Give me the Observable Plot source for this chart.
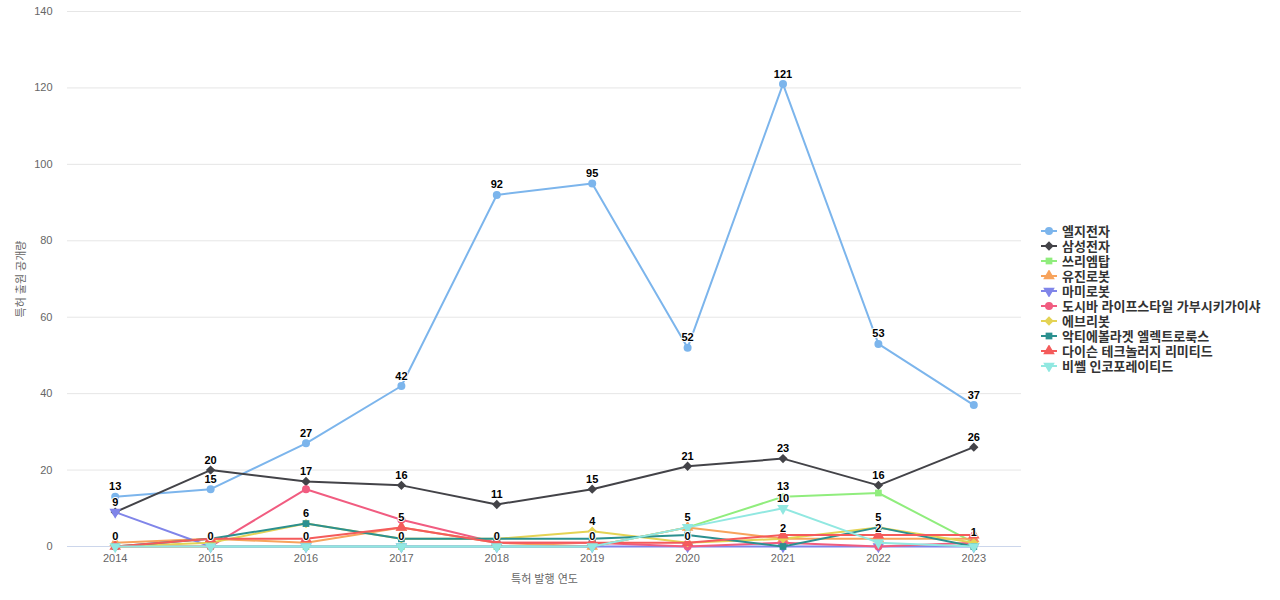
<!DOCTYPE html>
<html>
<head>
<meta charset="utf-8">
<script src="https://cdn.jsdelivr.net/npm/d3@7"></script>
<script src="https://cdn.jsdelivr.net/npm/@observablehq/plot@0.6"></script>
<style>
  html, body { margin: 0; padding: 0; background: #fff; }
  body { font-family: "Liberation Sans", Arial, "Noto Sans CJK KR", sans-serif; }
  #wrap { position: relative; width: 1280px; height: 600px; }
  #legend { position: absolute; left: 1041px; top: 223px; }
  .item { display: flex; align-items: center; height: 15px; font-size: 13px; font-weight: bold; color: #333; white-space: nowrap; }
  .item svg { margin-right: 5px; }
</style>
</head>
<body>
<div id="wrap"><div id="chart"></div><div id="legend"></div></div>
<script>
const years = [2014, 2015, 2016, 2017, 2018, 2019, 2020, 2021, 2022, 2023];
const seriesNames = ["엘지전자", "삼성전자", "쓰리엠탑", "유진로봇", "마미로봇", "도시바 라이프스타일 가부시키가이샤", "에브리봇", "악티에볼라겟 엘렉트로룩스", "다이슨 테크놀러지 리미티드", "비쎌 인코포레이티드"];
const lgValues       = [13, 15, 27, 42, 92, 95, 52, 121, 53, 37];
const samsungValues  = [9, 20, 17, 16, 11, 15, 21, 23, 16, 26];
const threeMValues   = [0, 0, 0, 0, 0, 0, 5, 13, 14, 1];
const yujinValues    = [1, 2, 1, 5, 1, 0, 5, 2, 2, 2];
const mamiValues     = [9, 0, 0, 0, 0, 0, 0, 0, 0, 0];
const toshibaValues  = [0, 0, 15, 7, 1, 1, 0, 1, 0, 1];
const everybotValues = [0, 1, 6, 2, 2, 4, 1, 2, 5, 1];
const aktieValues    = [0, 2, 6, 2, 2, 2, 3, 0, 5, 0];
const dysonValues    = [0, 2, 2, 5, 1, 1, 1, 3, 3, 3];
const bissellValues  = [0, 0, 0, 0, 0, 0, 5, 10, 1, 0];
const yTicks = [0, 20, 40, 60, 80, 100, 120, 140];

const colors = ["#7cb5ec", "#434348", "#90ed7d", "#f7a35c", "#8085e9", "#f15c80", "#e4d354", "#2b908f", "#f45b5b", "#91e8e1"];

const triangleDown = {
  draw(context, size) {
    const y = -Math.sqrt(size / (Math.sqrt(3) * 3));
    context.moveTo(0, -y * 2);
    context.lineTo(-Math.sqrt(3) * y, y);
    context.lineTo(Math.sqrt(3) * y, y);
    context.closePath();
  }
};
const symbols = ["circle", "diamond2", "square", "triangle", triangleDown, "circle", "diamond2", "square", "triangle", triangleDown];
const symbolR = [4, 4.2, 3.8, 4.3, 4.3, 4, 4.2, 3.8, 4.3, 4.3];

const allValues = [lgValues, samsungValues, threeMValues, yujinValues, mamiValues, toshibaValues, everybotValues, aktieValues, dysonValues, bissellValues];

const data = [];
allValues.forEach((vals, si) => {
  vals.forEach((v, i) => data.push({ series: seriesNames[si], si, year: years[i], value: v }));
});

const W = 1280, H = 600;
const mL = 67, mR = 259, mT = 11, mB = 54;

// scales identical to the plot's, used only for hiding overlapping labels
const xs = Plot.scale({ x: { type: "point", domain: years, range: [mL, W - mR], padding: 0.5, round: false } });
const ys = Plot.scale({ y: { type: "linear", domain: [0, 140], range: [H - mB, mT] } });

const placed = [];
const labels = [];
for (const d of data) {
  const cx = xs.apply(d.year), cy = ys.apply(d.value) - 10;
  const w = String(d.value).length * 6.5 + 2;
  const hit = placed.some(p => Math.abs(p.cx - cx) < (p.w + w) / 2 && Math.abs(p.cy - cy) < 11);
  if (!hit) { placed.push({ cx, cy, w }); labels.push(d); }
}

const marks = [
  Plot.gridY(yTicks, { stroke: "#e6e6e6", strokeOpacity: 1 }),
  Plot.ruleY([0], { stroke: "#ccd6eb" }),
  Plot.axisY(yTicks, { tickSize: 0, tickPadding: 15, fontSize: 11, color: "#666", label: "특허 출원 공개량", labelAnchor: "center", labelOffset: 50, labelArrow: "none" }),
  Plot.axisX(years, { tickSize: 0, tickPadding: 8, fontSize: 11, color: "#666", tickFormat: d => String(d), label: "특허 발행 연도", labelAnchor: "center", labelOffset: 36, labelArrow: "none" })
];
seriesNames.forEach((name, si) => {
  const sd = data.filter(d => d.si === si);
  marks.push(Plot.line(sd, { x: "year", y: "value", stroke: colors[si], strokeWidth: 2 }));
  marks.push(Plot.dot(sd, { x: "year", y: "value", fill: colors[si], symbol: () => symbols[si], r: symbolR[si] }));
});
marks.push(Plot.text(labels, { x: "year", y: "value", text: d => String(d.value), dy: -10, fontSize: 11, fontWeight: "bold", fill: "#000", stroke: "white", strokeWidth: 2 }));

const chart = Plot.plot({
  width: W, height: H,
  marginLeft: mL, marginRight: mR, marginTop: mT, marginBottom: mB,
  style: { fontFamily: '"Liberation Sans", Arial, "Noto Sans CJK KR", sans-serif', background: "white" },
  x: { type: "point", domain: years, padding: 0.5, round: false },
  y: { domain: [0, 140] },
  symbol: { type: "identity" },
  marks
});
document.getElementById("chart").appendChild(chart);

// legend
const legend = d3.select("#legend");
seriesNames.forEach((name, si) => {
  const item = legend.append("div").attr("class", "item");
  const svg = item.append("svg").attr("width", 16).attr("height", 12);
  svg.append("line").attr("x1", 0).attr("x2", 16).attr("y1", 6).attr("y2", 6).attr("stroke", colors[si]).attr("stroke-width", 2);
  const symType = typeof symbols[si] === "string"
    ? { circle: d3.symbolCircle, diamond2: d3.symbolDiamond2, square: d3.symbolSquare, triangle: d3.symbolTriangle }[symbols[si]]
    : symbols[si];
  svg.append("path").attr("transform", "translate(8,6)").attr("d", d3.symbol(symType, Math.PI * symbolR[si] * symbolR[si])()).attr("fill", colors[si]);
  item.append("span").text(name);
});
</script>
</body>
</html>
